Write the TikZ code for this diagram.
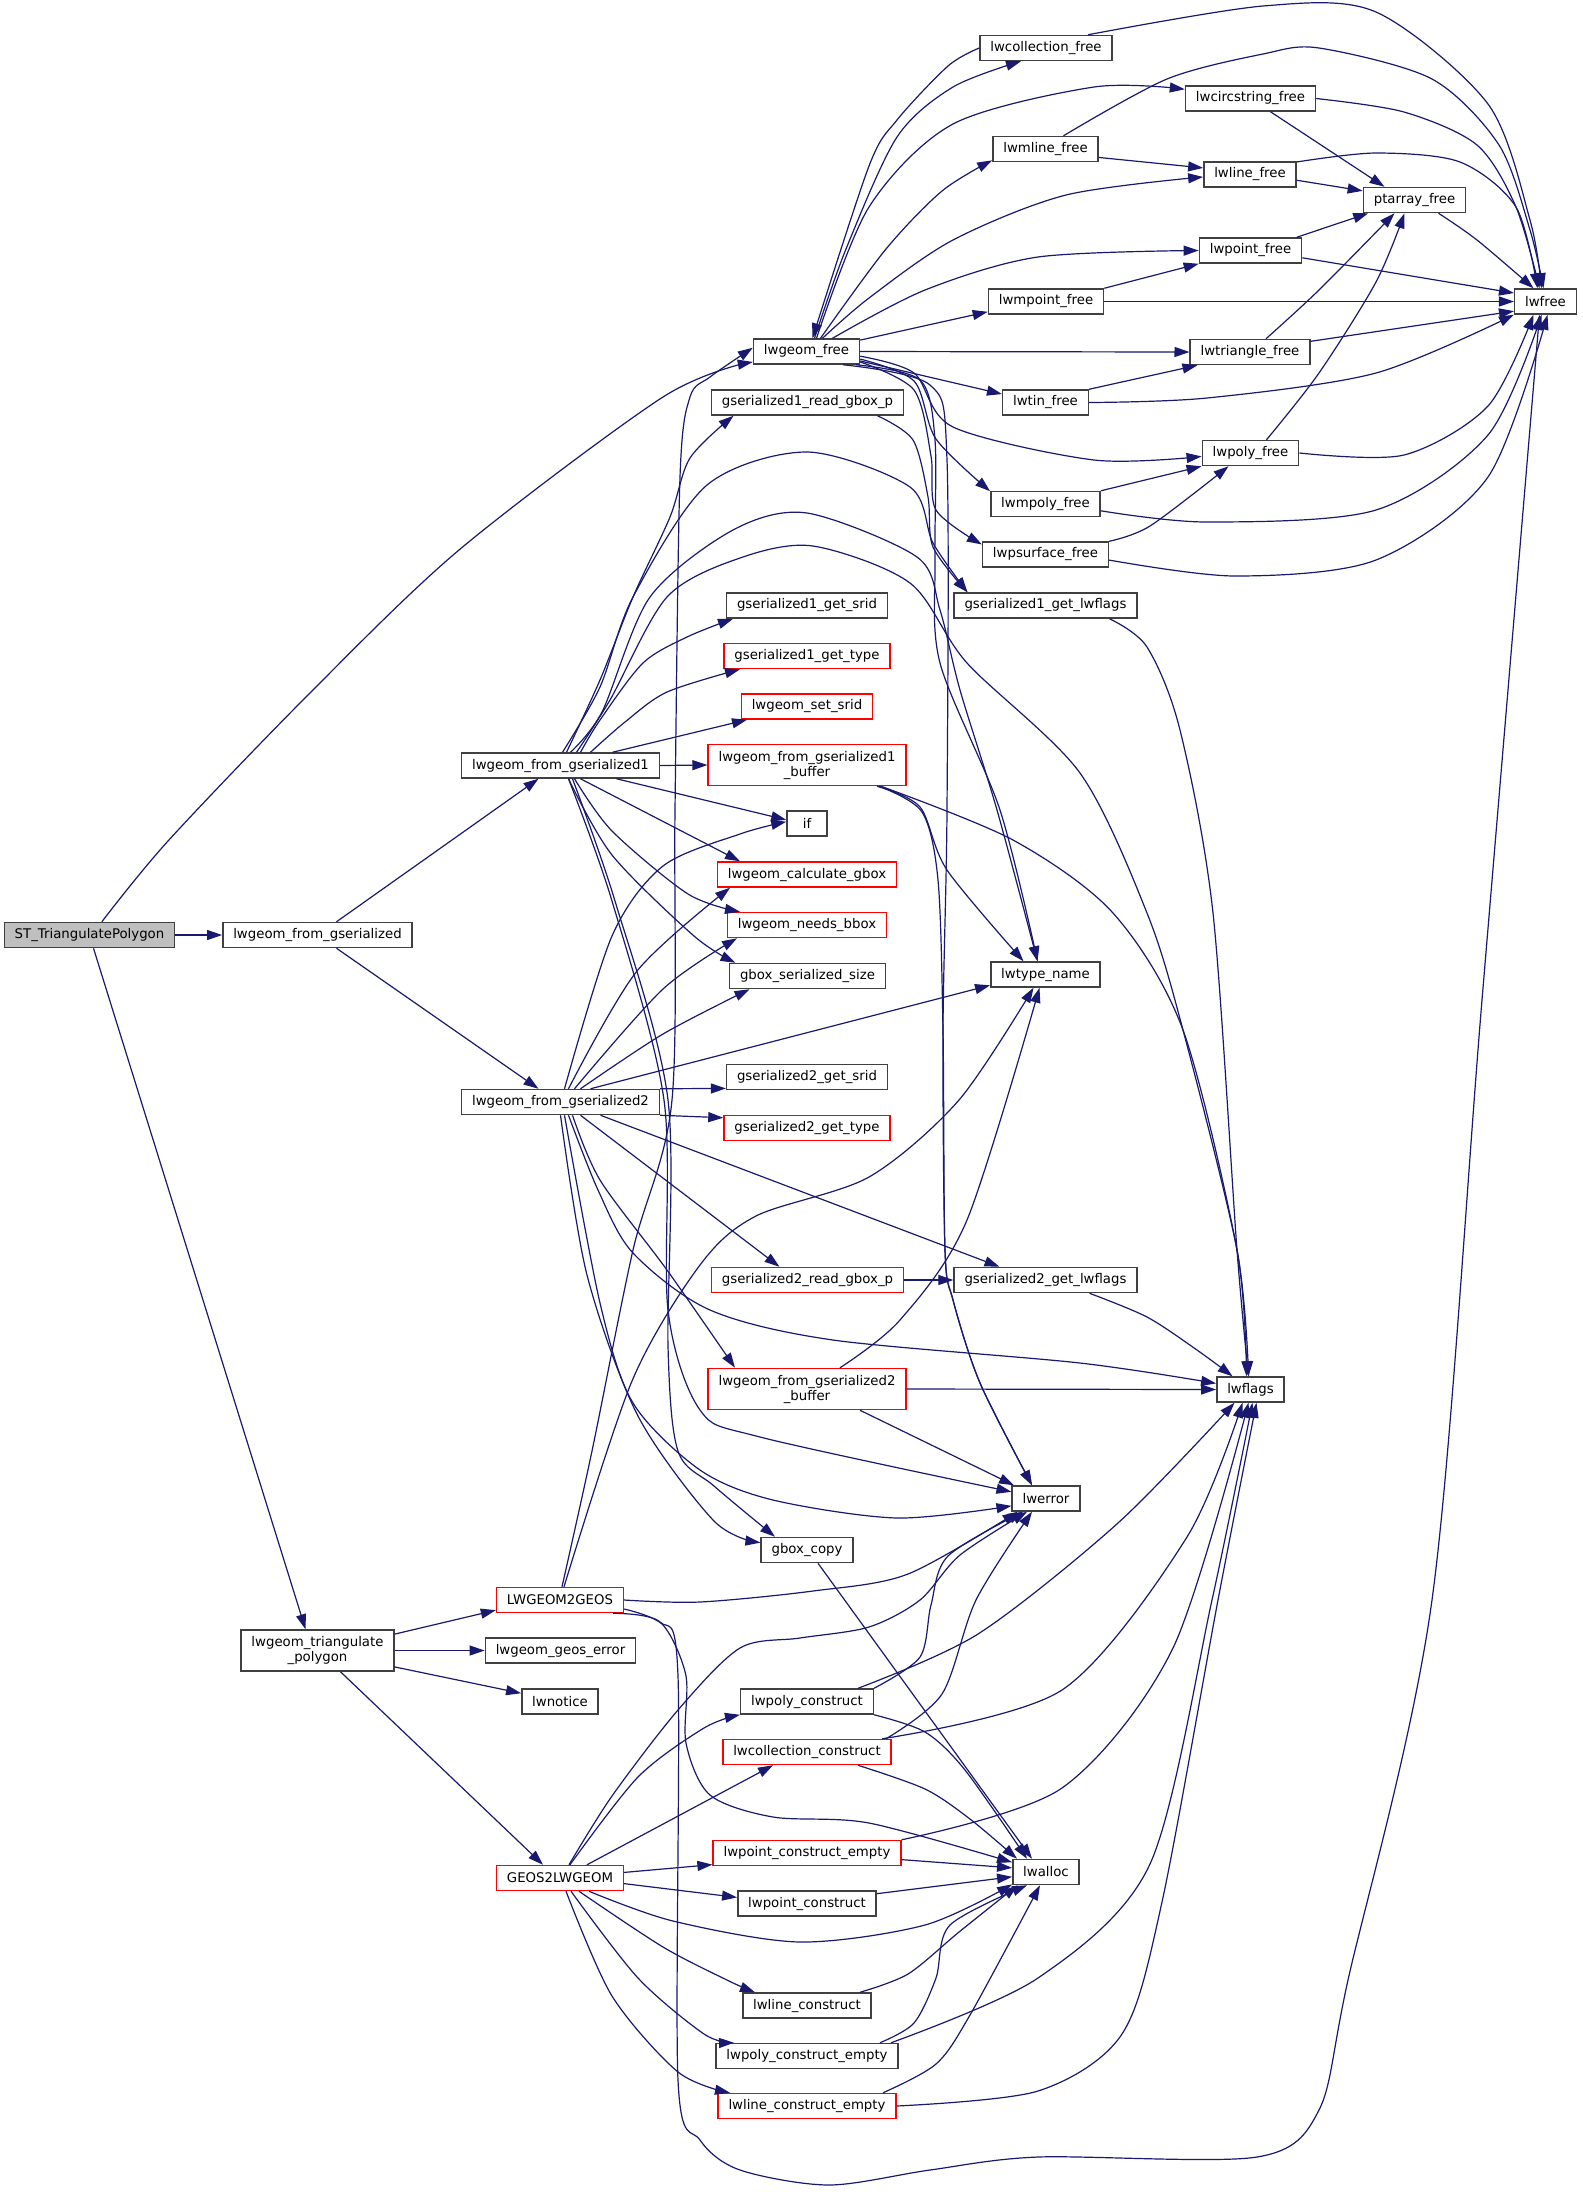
\documentclass[tikz,border=0pt]{standalone}
\usepackage{fontspec}
\setmainfont{DejaVu Sans}
\usetikzlibrary{arrows.meta}
\definecolor{edgeblue}{HTML}{191970}
\definecolor{boxgray}{HTML}{404040}
\definecolor{rootgray}{HTML}{BFBFBF}
\definecolor{boxred}{HTML}{FF0000}

\begin{document}
\begin{tikzpicture}[
        x=0.5pt, y=-0.5pt,
        fn/.style={
            rectangle,
            draw=boxgray,
            fill=white,
            line width=0.75pt,
            inner xsep=5.2pt,
            inner ysep=0pt,
            minimum height=12.5pt,
            align=center,
            font=\fontsize{6.65}{7.5}\selectfont
        },
        fn red/.style={fn, draw=boxred},
        fn root/.style={fn, fill=rootgray},
        two lines/.style={minimum height=20.5pt},
        arrow/.style={draw=edgeblue, line width=0.6pt, -{Triangle[length=7.5pt,width=5pt]}}
    ]

    \fill[white] (0,0) rectangle (1583,2192);
    \useasboundingbox (0,0) rectangle (1583,2192);

    % 调用者
    \node[fn root] (stp) at (89.5,935) {ST\_TriangulatePolygon};
    \node[fn] (lfg) at (317.5,935) {lwgeom\_from\_gserialized};
    \node[fn, two lines] (ltri) at (317.5,1650.5) {lwgeom\_triangulate\\\_polygon};

    % 第二列
    \node[fn] (lfg1) at (560.5,765.5) {lwgeom\_from\_gserialized1};
    \node[fn] (lfg2) at (560.5,1102) {lwgeom\_from\_gserialized2};
    \node[fn red] (l2g) at (560,1600) {LWGEOM2GEOS};
    \node[fn] (geoserr) at (560.5,1650.5) {lwgeom\_geos\_error};
    \node[fn] (notice) at (560,1701.5) {lwnotice};
    \node[fn red] (g2l) at (560,1878) {GEOS2LWGEOM};

    % 第三列
    \node[fn] (gfree) at (806.5,351.5) {lwgeom\_free};
    \node[fn] (g1gbox) at (807.5,402.5) {gserialized1\_read\_gbox\_p};
    \node[fn] (g1srid) at (807,605.5) {gserialized1\_get\_srid};
    \node[fn red] (g1type) at (807,656) {gserialized1\_get\_type};
    \node[fn red] (setsrid) at (807,706.5) {lwgeom\_set\_srid};
    \node[fn red, two lines] (buf1) at (807,765) {lwgeom\_from\_gserialized1\\\_buffer};
    \node[fn, minimum width=20pt] (ifn) at (807,823.5) {if};
    \node[fn red] (calcgbox) at (807,874.5) {lwgeom\_calculate\_gbox};
    \node[fn red] (needbbox) at (807,925) {lwgeom\_needs\_bbox};
    \node[fn] (gboxsize) at (807.5,976) {gbox\_serialized\_size};
    \node[fn] (g2srid) at (807,1077) {gserialized2\_get\_srid};
    \node[fn red] (g2type) at (807,1128) {gserialized2\_get\_type};
    \node[fn red] (g2gbox) at (807.5,1280) {gserialized2\_read\_gbox\_p};
    \node[fn red, two lines] (buf2) at (807,1389) {lwgeom\_from\_gserialized2\\\_buffer};
    \node[fn] (gboxcopy) at (807,1550) {gbox\_copy};
    \node[fn] (polyc) at (807,1701.5) {lwpoly\_construct};
    \node[fn red] (collc) at (807,1752) {lwcollection\_construct};
    \node[fn red] (ptce) at (807,1853) {lwpoint\_construct\_empty};
    \node[fn] (ptc) at (807,1903.5) {lwpoint\_construct};
    \node[fn] (linec) at (807,2005.5) {lwline\_construct};
    \node[fn] (polyce) at (807,2056) {lwpoly\_construct\_empty};
    \node[fn red] (linece) at (807,2106) {lwline\_construct\_empty};

    % 第四列
    \node[fn] (collfree) at (1046,48) {lwcollection\_free};
    \node[fn] (mlinefree) at (1045.5,149) {lwmline\_free};
    \node[fn] (mptfree) at (1046,301.5) {lwmpoint\_free};
    \node[fn] (tinfree) at (1045.5,402.5) {lwtin\_free};
    \node[fn] (mpolyfree) at (1045.5,504) {lwmpoly\_free};
    \node[fn] (psurffree) at (1045.5,554.5) {lwpsurface\_free};
    \node[fn] (g1flags) at (1045.5,605.5) {gserialized1\_get\_lwflags};
    \node[fn] (typename) at (1045.5,974.5) {lwtype\_name};
    \node[fn] (g2flags) at (1045.5,1280) {gserialized2\_get\_lwflags};
    \node[fn] (lwerror) at (1046,1498.5) {lwerror};
    \node[fn] (lwalloc) at (1046,1872) {lwalloc};

    % 第五列及以后
    \node[fn] (circfree) at (1250.5,98.5) {lwcircstring\_free};
    \node[fn] (linefree) at (1250,174.5) {lwline\_free};
    \node[fn] (ptfree) at (1250.5,250.5) {lwpoint\_free};
    \node[fn] (trifree) at (1250,352) {lwtriangle\_free};
    \node[fn] (polyfree) at (1250.5,453) {lwpoly\_free};
    \node[fn] (lwflags) at (1250.5,1389.5) {lwflags};
    \node[fn] (ptafree) at (1414.5,200) {ptarray\_free};
    \node[fn] (lwfree) at (1545.5,301.5) {lwfree};

    % ST_TriangulatePolygon
    \draw[arrow] plot[smooth] coordinates {(stp.47) (168,841) (306,697) (459,550) (663,397) (gfree.191)};
    \draw[arrow] (stp.east) -- (lfg.west);
    \draw[arrow] ([xshift=2pt]stp.south) -- ([xshift=-6pt]ltri.north);

    % lwgeom_from_gserialized
    \draw[arrow] ([xshift=9.5pt]lfg.north) -- ([xshift=-11pt]lfg1.south);
    \draw[arrow] ([xshift=9.5pt]lfg.south) -- ([xshift=-11pt]lfg2.north);

    % lwgeom_from_gserialized1
    \draw[arrow] plot[smooth] coordinates {([xshift=3pt]lfg1.north) (600,680) (633,597) (670,517) (690,458) ([xshift=-37pt]g1gbox.south)};
    \draw[arrow] plot[smooth] coordinates {([xshift=10pt]lfg1.north) (600,720) (643,663) (687,637) ([xshift=-37pt]g1srid.south)};
    \draw[arrow] plot[smooth] coordinates {([xshift=15pt]lfg1.north) (625,722) (667,692) ([xshift=-33.5pt]g1type.south)};
    \draw[arrow] ([xshift=26pt]lfg1.north) -- ([xshift=-30pt]setsrid.south);
    \draw[arrow] (lfg1.east) -- (buf1.west);
    \draw[arrow] ([xshift=28pt]lfg1.south) -- (ifn.170);
    \draw[arrow] ([xshift=10pt]lfg1.south) -- ([xshift=-33.5pt]calcgbox.north);
    \draw[arrow] plot[smooth] coordinates {([xshift=7pt]lfg1.south) (612,831) (688,894) ([xshift=-33.5pt]needbbox.north)};
    \draw[arrow] plot[smooth] coordinates {([xshift=4pt]lfg1.south) (612,855) (694,936) ([xshift=-36pt]gboxsize.north)};
    \draw[arrow] plot[smooth] coordinates {([xshift=1pt]lfg1.north) (600,687) (633,597) (707,485) (807,452) (910,487) (933,543) ([xshift=-39pt]g1flags.north)};
    \draw[arrow] plot[smooth] coordinates {([xshift=5pt]lfg1.north) (602,712) (650,597) (733,530) (807,513) (917,557) (940,610) (960,690) (997,810) ([xshift=-4pt]typename.north)};
    \draw[arrow] plot[smooth] coordinates {([xshift=8pt]lfg1.north) (610,700) (667,597) (740,558) (813,546) (910,583) (967,663) (1080,773) (1147,913) (1183,1030) (1237,1250) ([xshift=-1pt]lwflags.north)};
    \draw[arrow] plot[smooth] coordinates {([xshift=4pt]lfg1.south) (612,901) (664,1100) (668,1310) (700,1410) (760,1437) (lwerror.169)};
    \draw[arrow] plot[smooth] coordinates {([xshift=6pt]lfg1.south) (615,901) (668,1100) (668,1346) (678,1451) (714,1486) ([xshift=-16pt]gboxcopy.north)};

    % lwgeom_from_gserialized2
    \draw[arrow] plot[smooth] coordinates {([xshift=2pt]lfg2.north) (612,936) (663,866) (740,834) (ifn.175)};
    \draw[arrow] plot[smooth] coordinates {([xshift=4pt]lfg2.north) (637,971) ([xshift=-38.5pt]calcgbox.south)};
    \draw[arrow] plot[smooth] coordinates {([xshift=7pt]lfg2.north) (663,989) ([xshift=-35pt]needbbox.south)};
    \draw[arrow] plot[smooth] coordinates {([xshift=10pt]lfg2.north) (663,1034) ([xshift=-29pt]gboxsize.south)};
    \draw[arrow] ([xshift=15pt]lfg2.north) -- (typename.191);
    \draw[arrow] (lfg2.north east) -- (g2srid.188);
    \draw[arrow] (lfg2.south east) -- (g2type.173);
    \draw[arrow] ([xshift=10pt]lfg2.south) -- ([xshift=-14pt]g2gbox.north);
    \draw[arrow] ([xshift=20pt]lfg2.south) -- ([xshift=-23pt]g2flags.north);
    \draw[arrow] plot[smooth] coordinates {([xshift=6pt]lfg2.south) (600,1180) (667,1270) ([xshift=-36pt]buf2.north)};
    \draw[arrow] plot[smooth] coordinates {([xshift=4pt]lfg2.south) (598,1190) (633,1253) (710,1310) (833,1340) (1080,1363) (lwflags.170)};
    \draw[arrow] plot[smooth] coordinates {([xshift=2pt]lfg2.south) (600,1303) (633,1403) (700,1470) (773,1500) (897,1518) (lwerror.192)};
    \draw[arrow] plot[smooth] coordinates {(lfg2.south) (587,1275) (638,1416) (714,1521) (gboxcopy.171)};

    % lwgeom_triangulate_polygon
    \draw[arrow] (ltri.12) -- (l2g.189);
    \draw[arrow] (ltri.east) -- (geoserr.west);
    \draw[arrow] (ltri.-12) -- (notice.168);
    \draw[arrow] ([xshift=11.5pt]ltri.south) -- ([xshift=-8.5pt]g2l.north);

    % LWGEOM2GEOS
    \draw[arrow] plot[smooth] coordinates {([xshift=1pt]l2g.north) (592,1451) (633,1250) (672,1100) (675,810) (680,477) (690,397) (710,377) (gfree.176)};
    \draw[arrow] plot[smooth] coordinates {([xshift=2pt]l2g.north) (632,1381) (700,1265) (756,1216) (869,1177) (959,1100) ([xshift=-6pt]typename.south)};
    \draw[arrow] plot[smooth] coordinates {(l2g.east) (700,1602) (813,1591) (908,1574) (lwerror.205)};
    \draw[arrow] plot[smooth] coordinates {(l2g.-8) (663,1625) (686,1676) (686,1743) (710,1795) (773,1817) (869,1823) (lwalloc.164)};
    \draw[arrow] plot[smooth] coordinates {(l2g.-14) (660,1622) (678,1676) (678,2080) (700,2140) (740,2170) (829,2185) (930,2170) (1038,2157) (1257,2157) (1319,2110) (1348,1980) (1432,1600) (1482,1000) ([xshift=-3pt]lwfree.south)};

    % GEOS2LWGEOM
    \draw[arrow] plot[smooth] coordinates {([xshift=4.5pt]g2l.north) (612,1796) (678,1710) (740,1648) (800,1638) (869,1627) (920,1600) (960,1555) (lwerror.215)};
    \draw[arrow] plot[smooth] coordinates {([xshift=5pt]g2l.north) (638,1777) (704,1728) (polyc.south west)};
    \draw[arrow] ([xshift=13.5pt]g2l.north) -- ([xshift=-17pt]collc.south);
    \draw[arrow] (g2l.5) -- (ptce.187);
    \draw[arrow] (g2l.-5) -- (ptc.175);
    \draw[arrow] plot[smooth] coordinates {([xshift=14.5pt]g2l.south) (673,1921) (800,1942) (925,1925) (lwalloc.200)};
    \draw[arrow] plot[smooth] coordinates {([xshift=9.5pt]g2l.south) (663,1947) (729,1981) ([xshift=-26pt]linec.north)};
    \draw[arrow] plot[smooth] coordinates {([xshift=5.5pt]g2l.south) (638,1978) (704,2034) ([xshift=-36.5pt]polyce.north)};
    \draw[arrow] plot[smooth] coordinates {([xshift=3pt]g2l.south) (612,1996) (678,2072) ([xshift=-38.5pt]linece.north)};

    % 构造函数
    \draw[arrow] plot[smooth] coordinates {(polyc.north east) (920,1657) (931,1605) (948,1556) (lwerror.210)};
    \draw[arrow] plot[smooth] coordinates {([xshift=25.5pt]polyc.north) (978,1634) (1118,1523) ([xshift=-8pt]lwflags.south)};
    \draw[arrow] plot[smooth] coordinates {(polyc.south east) (925,1732) (965,1770) ([xshift=-9.5pt]lwalloc.north)};
    \draw[arrow] plot[smooth] coordinates {([xshift=39.5pt]collc.north) (942,1694) (976,1600) ([xshift=-7pt]lwerror.south)};
    \draw[arrow] plot[smooth] coordinates {(collc.10) (1062,1690) (1187,1537) ([xshift=-4pt]lwflags.south)};
    \draw[arrow] plot[smooth] coordinates {([xshift=25.5pt]collc.south) (925,1789) (970,1819) ([xshift=-14.5pt]lwalloc.north)};
    \draw[arrow] plot[smooth] coordinates {(ptce.north east) (1062,1788) (1173,1648) ([xshift=-1pt]lwflags.south)};
    \draw[arrow] (ptce.-4) -- (lwalloc.173);
    \draw[arrow] (ptc.8) -- (lwalloc.188);
    \draw[arrow] plot[smooth] coordinates {([xshift=26.5pt]linec.north) (908,1974) (959,1932) (lwalloc.205)};
    \draw[arrow] plot[smooth] coordinates {([xshift=36.5pt]polyce.north) (914,2023) (936,1978) (950,1925) (lwalloc.215)};
    \draw[arrow] plot[smooth] coordinates {([xshift=42pt]polyce.north) (1038,1978) (1150,1864) (1212,1600) ([xshift=1pt]lwflags.south)};
    \draw[arrow] plot[smooth] coordinates {([xshift=38pt]linece.north) (936,2064) (970,2015) ([xshift=-3pt]lwalloc.south)};
    \draw[arrow] plot[smooth] coordinates {(linece.east) (1038,2091) (1122,2034) (1162,1902) (1218,1600) ([xshift=3pt]lwflags.south)};
    \draw[arrow] ([xshift=5.5pt]gboxcopy.south) -- ([xshift=-7pt]lwalloc.north);

    % buffer 函数
    \draw[arrow] plot[smooth] coordinates {([xshift=35pt]buf1.south) (920,807) (947,870) ([xshift=-11pt]typename.north)};
    \draw[arrow] plot[smooth] coordinates {([xshift=36pt]buf1.south) (922,812) (938,880) (943,1030) (945,1250) (953,1300) (980,1383) ([xshift=-7pt]lwerror.north)};
    \draw[arrow] plot[smooth] coordinates {([xshift=37pt]buf1.south) (1013,840) (1113,913) (1183,1030) (1237,1250) ([xshift=-2pt]lwflags.north)};
    \draw[arrow] plot[smooth] coordinates {([xshift=16.5pt]buf2.north) (900,1320) (967,1220) ([xshift=-3pt]typename.south)};
    \draw[arrow] (buf2.east) -- (lwflags.west);
    \draw[arrow] ([xshift=26.5pt]buf2.south) -- ([xshift=-16pt]lwerror.north);

    % lwgeom_free
    \draw[arrow] plot[smooth] coordinates {([xshift=4pt]gfree.north) (846,249) (897,137) (953,87) ([xshift=-12.5pt]collfree.south)};
    \draw[arrow] plot[smooth] coordinates {(collfree.west) (948,66) (897,120) (869,166) ([xshift=3pt]gfree.north)};
    \draw[arrow] plot[smooth] coordinates {([xshift=5pt]gfree.north) (869,207) (953,124) (1094,87) (circfree.172)};
    \draw[arrow] plot[smooth] coordinates {([xshift=7pt]gfree.north) (886,249) (942,191) (mlinefree.192)};
    \draw[arrow] plot[smooth] coordinates {([xshift=8pt]gfree.north) (869,298) (953,240) (1066,195) (linefree.183)};
    \draw[arrow] plot[smooth] coordinates {([xshift=13pt]gfree.north) (925,290) (1038,257) (ptfree.west)};
    \draw[arrow] (gfree.12) -- (mptfree.190);
    \draw[arrow] (gfree.east) -- (trifree.west);
    \draw[arrow] (gfree.350) -- (tinfree.169);
    \draw[arrow] plot[smooth] coordinates {(gfree.355) (914,373) (953,427) (1094,460) (polyfree.184)};
    \draw[arrow] plot[smooth] coordinates {(gfree.352) (914,381) (936,439) (mpolyfree.167)};
    \draw[arrow] plot[smooth] coordinates {(gfree.349) (914,390) (931,456) (936,510) (psurffree.171)};
    \draw[arrow] plot[smooth] coordinates {(gfree.345) (920,380) (935,440) (935,560) (940,663) (1000,810) ([xshift=-4pt]typename.north)};
    \draw[arrow] plot[smooth] coordinates {(gfree.340) (930,385) (947,460) (947,810) (943,1030) (945,1250) (953,1300) (980,1383) ([xshift=-7pt]lwerror.north)};

    % free 函数
    \draw[arrow] plot[smooth] coordinates {([xshift=21pt]collfree.north) (1263,6) (1376,12) (1488,104) (1530,220) ([xshift=-2pt]lwfree.north)};
    \draw[arrow] plot[smooth] coordinates {([xshift=9pt]mlinefree.north) (1167,79) (1263,54) (1319,48) (1432,79) (1499,145) (1530,230) ([xshift=-1pt]lwfree.north)};
    \draw[arrow] (mlinefree.-9) -- (linefree.172);
    \draw[arrow] plot[smooth] coordinates {(circfree.east) (1404,112) (1477,145) (1516,207) ([xshift=-3pt]lwfree.north)};
    \draw[arrow] ([xshift=10pt]circfree.south) -- ([xshift=-15pt]ptafree.north);
    \draw[arrow] (linefree.-7) -- (ptafree.170);
    \draw[arrow] plot[smooth] coordinates {(linefree.15) (1376,153) (1460,162) (1516,207) ([xshift=-4pt]lwfree.north)};
    \draw[arrow] plot[smooth] coordinates {([xshift=12pt]ptafree.south) (1477,240) ([xshift=-6pt]lwfree.north)};
    \draw[arrow] (ptfree.16) -- (ptafree.196);
    \draw[arrow] (ptfree.-8) -- (lwfree.165);
    \draw[arrow] (mptfree.north east) -- (ptfree.south west);
    \draw[arrow] (mptfree.east) -- (lwfree.west);
    \draw[arrow] plot[smooth] coordinates {([xshift=8pt]trifree.north) (1319,290) ([xshift=-10pt]ptafree.south)};
    \draw[arrow] (trifree.10) -- (lwfree.197);
    \draw[arrow] (tinfree.north east) -- ([xshift=4pt]trifree.south west);
    \draw[arrow] plot[smooth] coordinates {(tinfree.east) (1207,398) (1376,373) (lwfree.south west)};
    \draw[arrow] plot[smooth] coordinates {([xshift=8pt]polyfree.north) (1319,373) (1376,282) ([xshift=-5pt]ptafree.south)};
    \draw[arrow] plot[smooth] coordinates {(polyfree.east) (1404,455) (1488,406) ([xshift=-6pt]lwfree.south)};
    \draw[arrow] (mpolyfree.north east) -- (polyfree.south west);
    \draw[arrow] plot[smooth] coordinates {(mpolyfree.-7) (1207,522) (1376,510) (1488,435) ([xshift=-2pt]lwfree.south)};
    \draw[arrow] plot[smooth] coordinates {(psurffree.north east) (1150,526) ([xshift=-11pt]polyfree.south)};
    \draw[arrow] plot[smooth] coordinates {(psurffree.-5) (1235,576) (1376,560) (1488,477) ([xshift=1pt]lwfree.south)};

    % gserialized 标志
    \draw[arrow] plot[smooth] coordinates {([xshift=35pt]g1gbox.south) (913,440) (928,497) (933,547) ([xshift=-39pt]g1flags.north)};
    \draw[arrow] plot[smooth] coordinates {([xshift=32pt]g1flags.south) (1147,647) (1180,730) (1213,913) (1237,1250) ([xshift=-1pt]lwflags.north)};
    \draw[arrow] (g2gbox.east) -- (g2flags.west);
    \draw[arrow] plot[smooth] coordinates {([xshift=22pt]g2flags.south) (1147,1317) (1197,1350) ([xshift=-9pt]lwflags.north)};

\end{tikzpicture}
\end{document}
